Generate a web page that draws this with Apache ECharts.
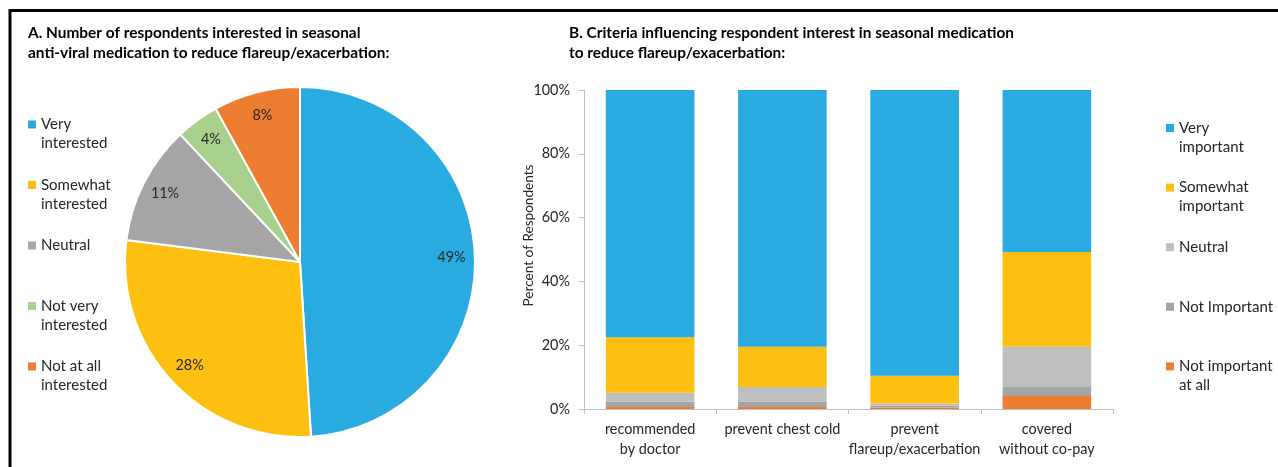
<!DOCTYPE html>
<html>
<head>
<meta charset="utf-8">
<script src="https://cdn.jsdelivr.net/npm/echarts@6/dist/echarts.min.js"></script>
<style>
  html, body { margin: 0; padding: 0; background: #fff; }
  #main { width: 1278px; height: 467px; }
</style>
</head>
<body>
<div id="main"></div>
<script>
// pie A: interest in seasonal anti-viral medication
const pieNames = ['Very interested', 'Somewhat interested', 'Neutral', 'Not very interested', 'Not at all interested'];
const pieLegendText = ['Very\ninterested', 'Somewhat\ninterested', 'Neutral', 'Not very\ninterested', 'Not at all\ninterested'];
const pieValues = [49, 28, 11, 4, 8];
const pieColors = ['#29abe2', '#fdc010', '#a5a5a5', '#a9d18e', '#ed7d31'];

// bars B: criteria, percent of respondents
const criteria = ['recommended\nby doctor', 'prevent chest cold', 'prevent\nflareup/exacerbation', 'covered\nwithout co-pay'];
const veryImportant = [77.5, 80.5, 89.6, 50.8];
const somewhatImportant = [17.4, 12.6, 8.7, 29.7];
const neutralImportant = [2.8, 4.6, 0.6, 12.6];
const notImportant = [1.7, 1.7, 0.6, 2.8];
const notAtAll = [0.6, 0.6, 0.5, 4.1];
const yTicks = [0, 20, 40, 60, 80, 100];

const barSeriesDefs = [
    {name: 'Not important at all', text: 'Not important\nat all', data: notAtAll, color: '#ed7d31'},
    {name: 'Not Important', text: 'Not Important', data: notImportant, color: '#a5a5a5'},
    {name: 'Neutral ', text: 'Neutral', data: neutralImportant, color: '#bfbfbf'},
    {name: 'Somewhat important', text: 'Somewhat\nimportant', data: somewhatImportant, color: '#fdc010'},
    {name: 'Very important', text: 'Very\nimportant', data: veryImportant, color: '#29abe2'}
];

const font = 'Lato, "Open Sans", sans-serif';
const textColor = '#262626';

// every legend entry is 3 lines tall, the first text line sits level with the swatch
function legendText(text) {
    return text.indexOf('\n') >= 0 ? '\n' + text : '\n' + text + '\n';
}

const pieLabels = {};
pieNames.forEach((n, i) => pieLabels[n] = legendText(pieLegendText[i]));
const barLabels = {};
barSeriesDefs.forEach(d => barLabels[d.name] = legendText(d.text));

const legendBase = {
    orient: 'vertical',
    padding: 0,
    itemWidth: 8,
    itemHeight: 8,
    icon: 'rect',
    itemStyle: {borderWidth: 0},
    textStyle: {fontFamily: font, fontSize: 15, color: textColor, lineHeight: 19}
};

const chart = echarts.init(document.getElementById('main'));
const option = {
    animation: false,
    textStyle: {fontFamily: font},
    title: [
        {
            text: 'A. Number of respondents interested in seasonal\nanti-viral medication to reduce flareup/exacerbation:',
            left: 28,
            top: 23,
            padding: 0,
            textStyle: {fontFamily: font, fontSize: 15.4, fontWeight: 'bold', color: '#000', lineHeight: 20}
        },
        {
            text: 'B. Criteria influencing respondent interest in seasonal medication\nto reduce flareup/exacerbation:',
            left: 569,
            top: 23,
            padding: 0,
            textStyle: {fontFamily: font, fontSize: 15.4, fontWeight: 'bold', color: '#000', lineHeight: 20}
        }
    ],
    legend: [
        Object.assign({}, legendBase, {
            left: 28,
            top: 124.5 - 28.5,
            itemGap: 3.5,
            formatter: n => pieLabels[n],
            data: pieNames.map((n, i) => ({name: n, itemStyle: {color: pieColors[i]}}))
        }),
        Object.assign({}, legendBase, {
            left: 1166,
            top: 128 - 28.5,
            itemGap: 2.6,
            formatter: n => barLabels[n],
            data: barSeriesDefs.slice().reverse().map(d => ({name: d.name, itemStyle: {color: d.color}}))
        })
    ],
    grid: {left: 584, right: 165, top: 90, bottom: 58},
    xAxis: {
        type: 'category',
        data: criteria,
        axisLine: {lineStyle: {color: '#bfbfbf'}},
        axisTick: {show: true, length: 5, lineStyle: {color: '#bfbfbf'}},
        axisLabel: {fontFamily: font, fontSize: 14.4, color: textColor, lineHeight: 19.5, margin: 11, interval: 0}
    },
    yAxis: {
        type: 'value',
        min: 0,
        max: 100,
        interval: 20,
        name: 'Percent of Respondents',
        nameLocation: 'middle',
        nameGap: 48,
        nameRotate: 90,
        nameMoveOverlap: false,
        nameTextStyle: {fontFamily: font, fontSize: 13.6, color: textColor, padding: [0, 0, 0, 28]},
        axisLine: {show: true, lineStyle: {color: '#bfbfbf'}},
        axisTick: {show: true, length: 5, lineStyle: {color: '#bfbfbf'}},
        splitLine: {show: false},
        axisLabel: {
            fontFamily: font, fontSize: 14.4, color: textColor, margin: 14,
            formatter: v => yTicks.indexOf(v) >= 0 ? v + '%' : ''
        }
    },
    series: [
        {
            name: 'pie',
            type: 'pie',
            center: [300, 262],
            radius: [0, 175],
            startAngle: 90,
            clockwise: true,
            label: {show: false},
            labelLine: {show: false},
            emphasis: {disabled: true},
            itemStyle: {borderColor: '#fff', borderWidth: 2},
            data: pieNames.map((n, i) => ({name: n, value: pieValues[i], itemStyle: {color: pieColors[i]}}))
        },
        {
            // label ring: puts the percent labels out near the rim
            name: 'pieLabels',
            type: 'pie',
            center: [300, 262],
            radius: [122, 175],
            startAngle: 90,
            clockwise: true,
            silent: true,
            legendHoverLink: false,
            emphasis: {disabled: true},
            itemStyle: {color: 'rgba(0,0,0,0)'},
            labelLine: {show: false},
            label: {
                show: true,
                position: 'inside',
                formatter: '{c}%',
                fontFamily: font,
                fontSize: 14.4,
                color: textColor
            },
            data: pieNames.map((n, i) => ({name: n, value: pieValues[i]}))
        }
    ].concat(barSeriesDefs.map(d => ({
        name: d.name,
        type: 'bar',
        stack: 'total',
        barCategoryGap: '33%',
        itemStyle: {color: d.color},
        emphasis: {disabled: true},
        data: d.data
    }))),
    graphic: [
        {
            type: 'polyline',
            silent: true,
            shape: {points: [[10, 467], [10, 10.5], [1278, 10.5]]},
            style: {stroke: '#000', lineWidth: 3, fill: null}
        }
    ]
};
option && chart.setOption(option);
</script>
</body>
</html>
